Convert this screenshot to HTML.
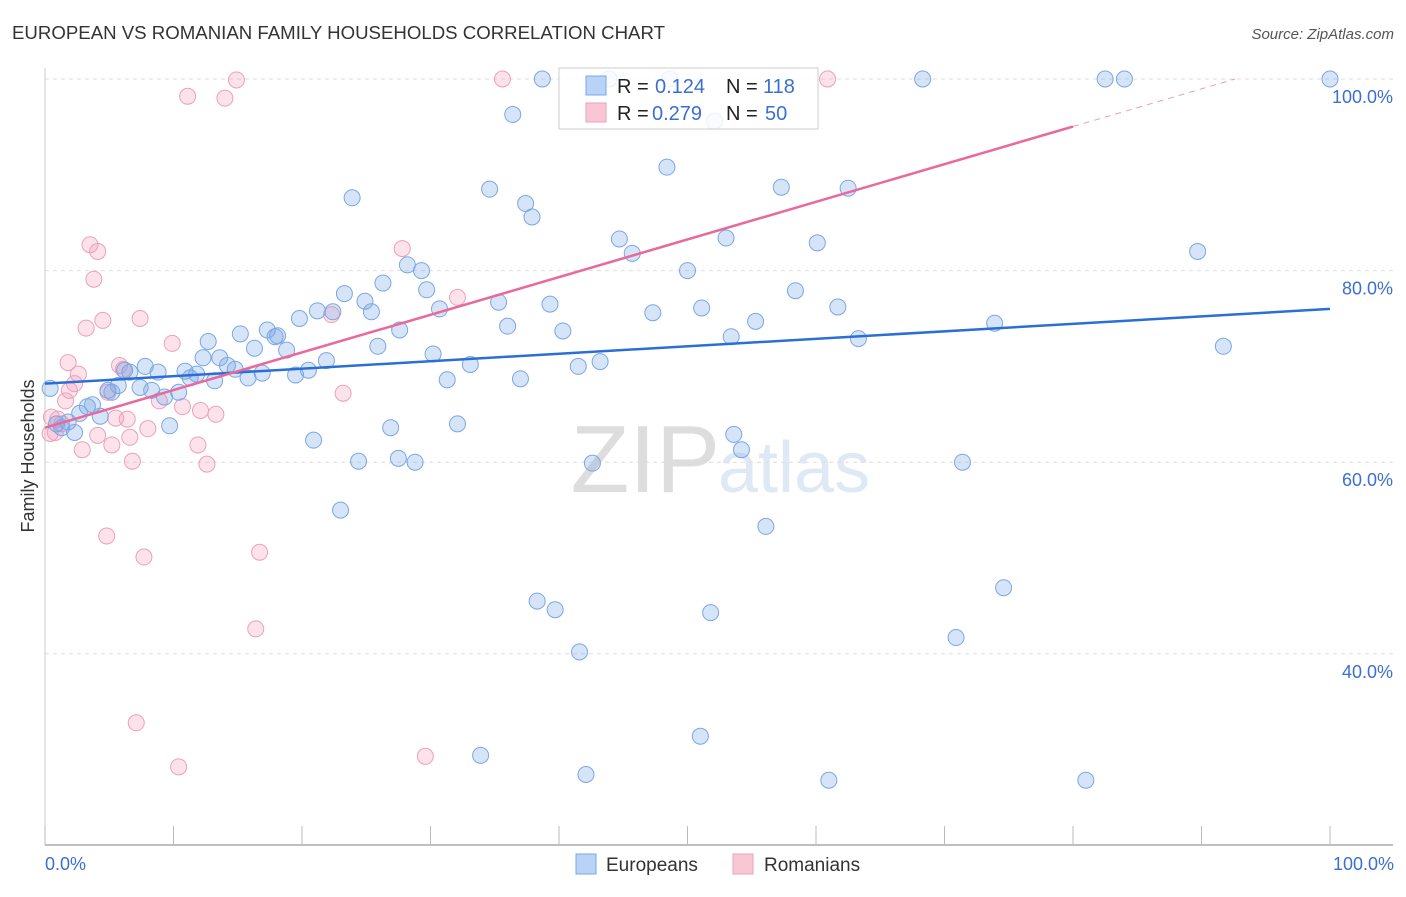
<!DOCTYPE html>
<html><head><meta charset="utf-8"><style>
body{margin:0;background:#fff;font-family:"Liberation Sans",sans-serif}
svg text{font-family:"Liberation Sans",sans-serif}
</style></head><body>
<svg id="chart" width="1406" height="892" viewBox="0 0 1406 892">
<text x="12" y="39" font-size="18" fill="#333" textLength="653" lengthAdjust="spacingAndGlyphs">EUROPEAN VS ROMANIAN FAMILY HOUSEHOLDS CORRELATION CHART</text>
<text x="1394" y="39" font-size="15" fill="#555" font-style="italic" text-anchor="end">Source: ZipAtlas.com</text>
<text x="720" y="492" font-size="96" fill="#ddd" text-anchor="end" font-family="Liberation Serif">ZIP</text>
<text x="718" y="492" font-size="72" fill="#dfe8f5">atlas</text>
<g id="grid"></g>
<g id="axes"></g>
<g id="pts"></g>
<g id="lines"></g>
<text transform="translate(34,456) rotate(-90)" font-size="18" fill="#333" text-anchor="middle">Family Households</text>
<text x="45" y="870" font-size="18" fill="#3b6fd1">0.0%</text>
<text x="1394" y="870" font-size="18" fill="#3b6fd1" text-anchor="end">100.0%</text>
<g>
<rect x="576" y="854" width="20" height="20" fill="#b8d3f5" stroke="#7aa7e6"/>
<text x="606" y="871" font-size="19" fill="#333">Europeans</text>
<rect x="733" y="854" width="20" height="20" fill="#f9c6d6" stroke="#eba1ba"/>
<text x="764" y="871" font-size="19" fill="#333">Romanians</text>
</g>
<g>
<rect x="559" y="68" width="259" height="61" fill="#fff" fill-opacity="0.85" stroke="#ccc"/>
<rect x="586" y="76" width="20" height="19" fill="#b8d3f5" stroke="#7aa7e6"/>
<text x="617" y="93" font-size="20" fill="#222">R = </text><text x="655" y="93" font-size="20" fill="#3b6fd1">0.124</text>
<text x="726" y="93" font-size="20" fill="#222">N = </text><text x="763" y="93" font-size="20" fill="#3b6fd1">118</text>
<rect x="586" y="103" width="20" height="19" fill="#f9c6d6" stroke="#eba1ba"/>
<text x="617" y="120" font-size="20" fill="#222">R = </text><text x="652" y="120" font-size="20" fill="#3b6fd1">0.279</text>
<text x="726" y="120" font-size="20" fill="#222">N = </text><text x="765" y="120" font-size="20" fill="#3b6fd1">50</text>
</g>
</svg>
<script>
const yTicks=[40,60,80,100];
const yTickLabels=["40.0%","60.0%","80.0%","100.0%"];
const xTicks=[0,10,20,30,40,50,60,70,80,90,100];
const euroX=[.4,.9,1.3,1.8,2.3,2.7,3.3,3.7,4.3,4.9,5.2,5.7,6.2,6.6,7.4,7.8,8.3,8.8,9.3,9.7,10.4,10.9,11.3,11.8,12.3,12.7,13.2,13.6,14.2,14.8,15.2,15.8,16.3,16.9,17.3,17.9,18.1,18.8,19.5,19.8,20.5,20.9,21.2,21.9,22.4,23.0,23.3,23.9,24.4,24.9,25.4,25.9,26.3,26.9,27.5,27.6,28.2,28.8,29.3,29.7,30.2,30.7,31.3,32.1,33.1,33.9,34.6,35.3,36.0,36.4,37.0,37.4,37.9,38.3,38.7,39.3,39.7,40.3,41.5,41.6,42.1,42.6,43.2,44.7,45.7,47.3,48.4,50.0,51.0,51.1,51.8,52.1,53.0,53.4,53.6,54.2,55.3,56.1,57.3,58.4,60.1,61.0,61.7,62.5,63.3,68.3,70.9,71.4,73.9,74.6,81.0,82.5,84.0,89.7,91.7,100,43.9,48.6];
const euroY=[67.7,64.0,63.6,64.2,63.1,65.1,65.8,66.0,64.8,67.5,67.3,68.0,69.6,69.4,67.8,70.0,67.5,69.4,66.8,63.8,67.3,69.5,68.8,69.2,70.9,72.6,68.5,70.9,70.1,69.7,73.4,68.8,71.9,69.3,73.8,73.1,73.2,71.7,69.1,75.0,69.6,62.3,75.8,70.6,75.7,55.0,77.6,87.6,60.1,76.8,75.7,72.1,78.7,63.6,60.4,73.8,80.6,60.0,80.0,78.0,71.3,76.0,68.6,64.0,70.2,29.4,88.5,76.7,74.2,96.3,68.7,87.0,85.6,45.5,100,76.5,44.6,73.7,70.0,40.2,27.4,59.9,70.5,83.3,81.8,75.6,90.8,80.0,31.4,76.1,44.3,95.6,83.4,73.1,62.9,61.3,74.7,53.3,88.7,77.9,82.9,26.8,76.2,88.6,72.9,100,41.7,60.0,74.5,46.9,26.8,100,100,82.0,72.1,100,100,100];
const romX=[.5,.8,1.0,1.3,1.6,1.9,2.3,2.6,2.9,3.2,3.5,3.8,4.1,4.1,4.5,4.9,5.2,5.5,5.8,6.1,6.4,6.6,6.8,7.1,7.4,7.7,8.0,8.9,9.9,10.4,10.7,11.1,11.9,12.1,12.6,13.3,14.0,14.9,16.4,16.7,22.3,23.2,27.8,29.6,32.1,35.6,60.9,4.8,1.8,.4];
const romY=[64.7,63.1,64.5,64.0,66.4,67.5,68.2,69.2,61.3,74.0,82.7,79.1,82.0,62.8,74.8,67.3,61.8,64.6,70.1,69.7,64.5,62.6,60.1,32.8,75.0,50.1,63.5,66.4,72.4,28.2,65.8,98.2,61.8,65.4,59.8,65.0,98.0,99.9,42.6,50.6,75.4,67.2,82.3,29.3,77.2,100,100,52.3,70.4,63.0];
const euroTrend=[68.2,76.0];
const romTrend=[63.6,0.393];
const X=v=>45+v*12.85, Y=v=>79+(100-v)*9.58;
const NS="http://www.w3.org/2000/svg";
function mk(tag,parent,attrs){const e=document.createElementNS(NS,tag);for(const k in attrs)e.setAttribute(k,attrs[k]);document.getElementById(parent).appendChild(e);return e;}
yTicks.forEach((t,i)=>{
 const g=mk('line','grid',{x1:45,x2:1393,y1:Y(t),y2:Y(t),stroke:'#ddd','stroke-dasharray':'4,4'});
 
 
 const tx=mk('text','grid',{x:1393,y:Y(t)+24,'font-size':18,fill:'#3b6fd1','text-anchor':'end'});
 tx.textContent=yTickLabels[i];
 
 
});
const ax=mk('line','axes',{x1:45,x2:1393,y1:845,y2:845,stroke:'#aaa','stroke-width':1.5});


const ay=mk('line','axes',{x1:45,x2:45,y1:68,y2:845,stroke:'#ccc'});


xTicks.forEach(t=>{
 const l=mk('line','axes',{x1:X(t),x2:X(t),y1:826,y2:845,stroke:'#bbb'});
 
 
});
romX.forEach((v,i)=>{
 const c=mk('circle','pts',{cx:X(v),cy:Y(romY[i]),r:8,fill:'rgba(244,160,190,0.3)',stroke:'#eba1ba','stroke-width':1});
 
 
});
euroX.forEach((v,i)=>{
 const c=mk('circle','pts',{cx:X(v),cy:Y(euroY[i]),r:8,fill:'rgba(120,165,230,0.3)',stroke:'#7aa7e6','stroke-width':1});
 
 
});
const bl=mk('line','lines',{x1:X(0),y1:Y(euroTrend[0]),x2:X(100),y2:Y(euroTrend[1]),stroke:'#2a6fd6','stroke-width':2.5});


const xEnd=80, xTop=(100-romTrend[0])/romTrend[1];
const pl=mk('line','lines',{x1:X(0),y1:Y(romTrend[0]),x2:X(xEnd),y2:Y(romTrend[0]+romTrend[1]*xEnd),stroke:'#e8699a','stroke-width':2.5});


const pd=mk('line','lines',{x1:X(xEnd),y1:Y(romTrend[0]+romTrend[1]*xEnd),x2:X(xTop),y2:Y(100),stroke:'#e8a0bb','stroke-width':1,'stroke-dasharray':'6,5'});


</script>
</body></html>
